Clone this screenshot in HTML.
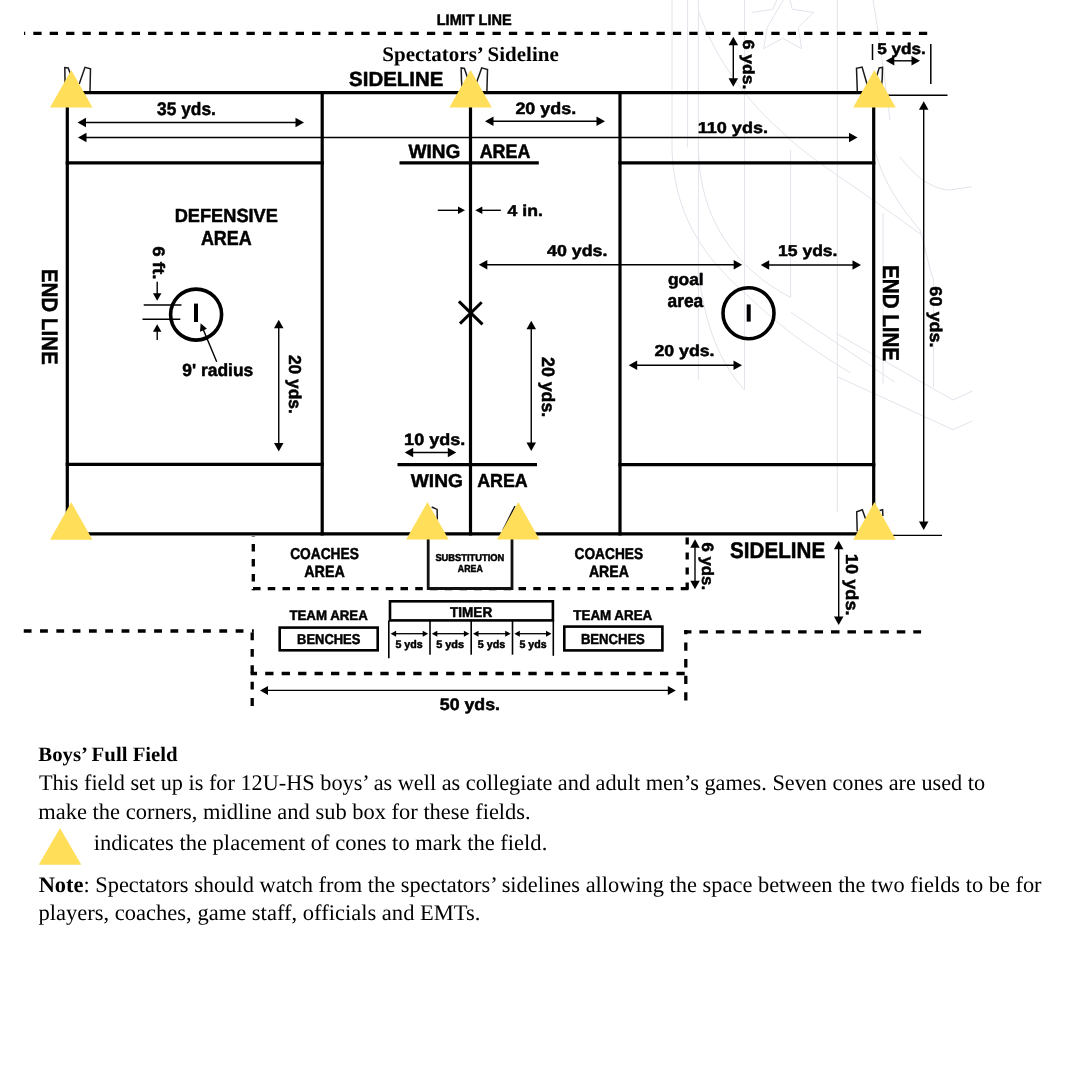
<!DOCTYPE html>
<html><head><meta charset="utf-8"><title>Boys Full Field</title>
<style>html,body{margin:0;padding:0;background:#fff;width:1080px;height:1080px;overflow:hidden}svg{display:block;will-change:transform;text-rendering:geometricPrecision}</style>
</head><body>
<svg width="1080" height="1080" viewBox="0 0 1080 1080">
<rect width="1080" height="1080" fill="#fff"/>
<g stroke="#E3E4EC" stroke-width="1" fill="none" stroke-linejoin="miter">
<path d="M751.6,12.5 L772.9,9.3 L780,-8 M788,-8 L792.3,9.3 L813.6,12.5 L798.3,27.3 L801.6,48.6 L782.6,38.4 L763.6,48.6 L767.3,27.3 Z"/>
<path d="M672,0V150 M687.6,0V147.5 M698.4,0V380 M744.5,0V390 M790.6,150V297.5 M837.3,0V511.7 M883,213V384 M933.5,280V387"/>
<path d="M672,150 C674,205 695,250 744.5,292.5 C770,317.5 800,342.5 850,372.5"/>
<path d="M698.4,150 C700,220 735,268 790.6,297.5"/>
<path d="M698.4,270 C705,330 722,365 744.5,390"/>
<path d="M698.6,11.6 C712,50 740,95 780,130 C810,160 840,175 921.7,235"/>
<path d="M873,0 C880,40 886,90 890,120 M875,150 C880,170 890,195 920,230 C925,245 928,265 933.5,280"/>
<path d="M900,156.7 C915,178 935,190 950,190 L971.7,186.7"/>
<path d="M791,312.4 L894.6,382 M836.3,333.5 L953,400 L972.4,391 M838,377 L953,429.7 L972.4,421"/>
</g>
<path d="M24.00,33.3H25.20M33.30,33.3H41.60M49.70,33.3H58.00M66.10,33.3H74.40M82.50,33.3H90.80M98.90,33.3H107.20M115.30,33.3H123.60M131.70,33.3H140.00M148.10,33.3H156.40M164.50,33.3H172.80M180.90,33.3H189.20M197.30,33.3H205.60M213.70,33.3H222.00M230.10,33.3H238.40M246.50,33.3H254.80M262.90,33.3H271.20M279.30,33.3H287.60M295.70,33.3H304.00M312.10,33.3H320.40M328.50,33.3H336.80M344.90,33.3H353.20M361.30,33.3H369.60M377.70,33.3H386.00M394.10,33.3H402.40M410.50,33.3H418.80M426.90,33.3H435.20M443.30,33.3H451.60M459.70,33.3H468.00M476.10,33.3H484.40M492.50,33.3H500.80M508.90,33.3H517.20M525.30,33.3H533.60M541.70,33.3H550.00M558.10,33.3H566.40M574.50,33.3H582.80M590.90,33.3H599.20M607.30,33.3H615.60M623.70,33.3H632.00M640.10,33.3H648.40M656.50,33.3H664.80M672.90,33.3H681.20M689.30,33.3H697.60M705.70,33.3H714.00M722.10,33.3H730.40M738.50,33.3H746.80M754.90,33.3H763.20M771.30,33.3H779.60M787.70,33.3H796.00M804.10,33.3H812.40M820.50,33.3H828.80M836.90,33.3H845.20M853.30,33.3H861.60M869.70,33.3H878.00M886.10,33.3H894.40M902.50,33.3H910.80M918.90,33.3H927.20" stroke="#000" stroke-width="3.3" fill="none"/>
<path d="M253.3,536.00V536.60M253.3,544.00V551.60M253.3,559.00V566.60M253.3,574.00V581.60M253.3,589.00V590.30" stroke="#000" stroke-width="3.3" fill="none"/>
<path d="M253.00,588.7H260.50M267.75,588.7H275.25M282.50,588.7H290.00M297.25,588.7H304.75M312.00,588.7H319.50M326.75,588.7H334.25M341.50,588.7H349.00M356.25,588.7H363.75M371.00,588.7H378.50M385.75,588.7H393.25M400.50,588.7H408.00M415.25,588.7H422.75M430.00,588.7H437.50M444.75,588.7H452.25M459.50,588.7H467.00M474.25,588.7H481.75M489.00,588.7H496.50M503.75,588.7H511.25M518.50,588.7H526.00M533.25,588.7H540.75M548.00,588.7H555.50M562.75,588.7H570.25M577.50,588.7H585.00M592.25,588.7H599.75M607.00,588.7H614.50M621.75,588.7H629.25M636.50,588.7H644.00M651.25,588.7H658.75M666.00,588.7H673.50M680.75,588.7H688.25" stroke="#000" stroke-width="3.3" fill="none"/>
<path d="M687.2,537.50V544.50M687.2,552.50V559.50M687.2,567.50V574.50M687.2,582.50V589.50" stroke="#000" stroke-width="3.3" fill="none"/>
<path d="M23.75,631H31.55M40.05,631H47.85M56.35,631H64.15M72.65,631H80.45M88.95,631H96.75M105.25,631H113.05M121.55,631H129.35M137.85,631H145.65M154.15,631H161.95M170.45,631H178.25M186.75,631H194.55M203.05,631H210.85M219.35,631H227.15M235.65,631H243.45M251.95,631H253.80" stroke="#000" stroke-width="3.3" fill="none"/>
<path d="M252.2,632.50V640.30M252.2,648.90V656.70M252.2,665.30V673.10M252.2,681.70V689.50M252.2,698.10V705.90" stroke="#000" stroke-width="3.3" fill="none"/>
<path d="M250.60,673.5H257.05M265.20,673.5H273.50M281.65,673.5H289.95M298.10,673.5H306.40M314.55,673.5H322.85M331.00,673.5H339.30M347.45,673.5H355.75M363.90,673.5H372.20M380.35,673.5H388.65M396.80,673.5H405.10M413.25,673.5H421.55M429.70,673.5H438.00M446.15,673.5H454.45M462.60,673.5H470.90M479.05,673.5H487.35M495.50,673.5H503.80M511.95,673.5H520.25M528.40,673.5H536.70M544.85,673.5H553.15M561.30,673.5H569.60M577.75,673.5H586.05M594.20,673.5H602.50M610.65,673.5H618.95M627.10,673.5H635.40M643.55,673.5H651.85M660.00,673.5H668.30M676.45,673.5H684.75" stroke="#000" stroke-width="3.3" fill="none"/>
<path d="M685.8,630.00V634.20M685.8,642.50V650.80M685.8,659.10V667.40M685.8,675.70V684.00M685.8,692.30V700.60" stroke="#000" stroke-width="3.3" fill="none"/>
<path d="M684.20,631.8H691.45M699.40,631.8H707.90M715.85,631.8H724.35M732.30,631.8H740.80M748.75,631.8H757.25M765.20,631.8H773.70M781.65,631.8H790.15M798.10,631.8H806.60M814.55,631.8H823.05M831.00,631.8H839.50M847.45,631.8H855.95M863.90,631.8H872.40M880.35,631.8H888.85M896.80,631.8H905.30M913.25,631.8H921.10" stroke="#000" stroke-width="3.3" fill="none"/>
<g stroke="#000" stroke-width="3.2" fill="none" stroke-linecap="square">
<path d="M67.3,92.7H873.7 M67.3,533.9H873.7 M67.3,92.7V533.9 M873.7,92.7V533.9"/>
<path d="M322.2,92.7V533.9 M470.5,92.7V533.9 M620,92.7V533.9"/>
<path d="M67.3,162.8H322.2 M620,162.9H873.7 M67.3,464.4H322.2 M620,464.6H873.7"/>
</g>
<g stroke="#000" stroke-width="3.2" fill="none">
<path d="M399.5,162.8H538.8 M397.5,464.7H537"/>
</g>
<line x1="873.7" y1="95.3" x2="947.5" y2="95.3" stroke="#000" stroke-width="1.4" />
<line x1="873.7" y1="535.4" x2="942" y2="535.4" stroke="#000" stroke-width="1.4" />
<circle cx="196.1" cy="314.6" r="25.5" stroke="#000" stroke-width="3.6" fill="none"/>
<circle cx="748.5" cy="313.2" r="25.5" stroke="#000" stroke-width="3.6" fill="none"/>
<rect x="194" y="303.6" width="4" height="18.4" fill="#000"/>
<rect x="746.7" y="304.4" width="4" height="17.2" fill="#000"/>
<path d="M458.9,301.4L482.5,324.4 M481.7,302.2L460,323.6" stroke="#000" stroke-width="3" fill="none"/>
<line x1="85.0" y1="122.5" x2="296.5" y2="122.5" stroke="#000" stroke-width="1.4" />
<polygon points="77.50,122.50 86.00,117.75 86.00,127.25" fill="#000"/>
<polygon points="304.00,122.50 295.50,127.25 295.50,117.75" fill="#000"/>
<line x1="85.5" y1="137.5" x2="850.0" y2="137.5" stroke="#000" stroke-width="1.4" />
<polygon points="78.00,137.50 86.50,132.75 86.50,142.25" fill="#000"/>
<polygon points="857.50,137.50 849.00,142.25 849.00,132.75" fill="#000"/>
<line x1="492.5" y1="121.3" x2="597.5" y2="121.3" stroke="#000" stroke-width="1.4" />
<polygon points="485.00,121.30 493.50,116.55 493.50,126.05" fill="#000"/>
<polygon points="605.00,121.30 596.50,126.05 596.50,116.55" fill="#000"/>
<line x1="437.8" y1="210.3" x2="459" y2="210.3" stroke="#000" stroke-width="1.4" />
<polygon points="465.00,210.30 458.00,214.05 458.00,206.55" fill="#000"/>
<line x1="481.3" y1="210.3" x2="500.8" y2="210.3" stroke="#000" stroke-width="1.4" />
<polygon points="475.30,210.30 482.30,206.55 482.30,214.05" fill="#000"/>
<line x1="486.3" y1="264.8" x2="734.7" y2="264.8" stroke="#000" stroke-width="1.4" />
<polygon points="478.80,264.80 487.30,260.05 487.30,269.55" fill="#000"/>
<polygon points="742.20,264.80 733.70,269.55 733.70,260.05" fill="#000"/>
<line x1="768.2" y1="265" x2="853.5" y2="265" stroke="#000" stroke-width="1.4" />
<polygon points="760.70,265.00 769.20,260.25 769.20,269.75" fill="#000"/>
<polygon points="861.00,265.00 852.50,269.75 852.50,260.25" fill="#000"/>
<line x1="636.2" y1="365.3" x2="734.5" y2="365.3" stroke="#000" stroke-width="1.4" />
<polygon points="628.70,365.30 637.20,360.55 637.20,370.05" fill="#000"/>
<polygon points="742.00,365.30 733.50,370.05 733.50,360.55" fill="#000"/>
<line x1="412.2" y1="452.5" x2="448.8" y2="452.5" stroke="#000" stroke-width="1.4" />
<polygon points="404.70,452.50 413.20,447.75 413.20,457.25" fill="#000"/>
<polygon points="456.30,452.50 447.80,457.25 447.80,447.75" fill="#000"/>
<line x1="733.3" y1="44.2" x2="733.3" y2="79.2" stroke="#000" stroke-width="1.4" />
<polygon points="733.30,36.70 738.05,45.20 728.55,45.20" fill="#000"/>
<polygon points="733.30,86.70 728.55,78.20 738.05,78.20" fill="#000"/>
<line x1="893.3" y1="60.8" x2="912.5" y2="60.8" stroke="#000" stroke-width="1.4" />
<polygon points="885.80,60.80 894.30,56.05 894.30,65.55" fill="#000"/>
<polygon points="920.00,60.80 911.50,65.55 911.50,56.05" fill="#000"/>
<line x1="872.5" y1="44" x2="872.5" y2="60" stroke="#000" stroke-width="1.5" />
<line x1="930.8" y1="44" x2="930.8" y2="84" stroke="#000" stroke-width="1.5" />
<line x1="923.7" y1="108.8" x2="923.7" y2="522.5" stroke="#000" stroke-width="1.4" />
<polygon points="923.70,101.30 928.45,109.80 918.95,109.80" fill="#000"/>
<polygon points="923.70,530.00 918.95,521.50 928.45,521.50" fill="#000"/>
<line x1="278.75" y1="327.2" x2="278.75" y2="443.9" stroke="#000" stroke-width="1.4" />
<polygon points="278.75,319.70 283.50,328.20 274.00,328.20" fill="#000"/>
<polygon points="278.75,451.40 274.00,442.90 283.50,442.90" fill="#000"/>
<line x1="531.25" y1="328.3" x2="531.25" y2="443.5" stroke="#000" stroke-width="1.4" />
<polygon points="531.25,320.80 536.00,329.30 526.50,329.30" fill="#000"/>
<polygon points="531.25,451.00 526.50,442.50 536.00,442.50" fill="#000"/>
<line x1="157.2" y1="281.7" x2="157.2" y2="294.3" stroke="#000" stroke-width="1.4" />
<polygon points="157.20,300.80 152.95,293.30 161.45,293.30" fill="#000"/>
<line x1="157.2" y1="330.7" x2="157.2" y2="340" stroke="#000" stroke-width="1.4" />
<polygon points="157.20,324.20 161.45,331.70 152.95,331.70" fill="#000"/>
<line x1="143.7" y1="305" x2="181.5" y2="305" stroke="#000" stroke-width="1.4" />
<line x1="142.5" y1="319.2" x2="180.3" y2="319.2" stroke="#000" stroke-width="1.4" />
<line x1="216.7" y1="361.7" x2="202.9199647407101" y2="328.83333205237693" stroke="#000" stroke-width="1.4" />
<polygon points="200.60,323.30 206.96,328.77 200.04,331.67" fill="#000"/>
<line x1="695" y1="546.7" x2="695" y2="581.7" stroke="#000" stroke-width="1.4" />
<polygon points="695.00,539.20 699.75,547.70 690.25,547.70" fill="#000"/>
<polygon points="695.00,589.20 690.25,580.70 699.75,580.70" fill="#000"/>
<line x1="838.7" y1="548.2" x2="838.7" y2="617.5" stroke="#000" stroke-width="1.4" />
<polygon points="838.70,540.70 843.45,549.20 833.95,549.20" fill="#000"/>
<polygon points="838.70,625.00 833.95,616.50 843.45,616.50" fill="#000"/>
<line x1="267" y1="690.4" x2="668.8" y2="690.4" stroke="#000" stroke-width="1.4" />
<polygon points="260.00,690.40 268.00,685.90 268.00,694.90" fill="#000"/>
<polygon points="675.80,690.40 667.80,694.90 667.80,685.90" fill="#000"/>
<path d="M428.2,533.9V588.5H512V533.9" stroke="#111" stroke-width="2.8" fill="none"/>
<rect x="390" y="601.3" width="162.9" height="19.1" stroke="#000" stroke-width="2.6" fill="none"/>
<rect x="279.7" y="627.6" width="98" height="22.7" stroke="#000" stroke-width="2.6" fill="none"/>
<rect x="564.3" y="626.6" width="98.1" height="23.8" stroke="#000" stroke-width="2.6" fill="none"/>
<line x1="388.8" y1="620.5" x2="388.8" y2="658.3" stroke="#000" stroke-width="1.6" />
<line x1="430" y1="620.5" x2="430" y2="654.7" stroke="#000" stroke-width="1.6" />
<line x1="471.2" y1="620.5" x2="471.2" y2="654.7" stroke="#000" stroke-width="1.6" />
<line x1="512.5" y1="620.5" x2="512.5" y2="654.7" stroke="#000" stroke-width="1.6" />
<line x1="553.3" y1="620.5" x2="553.3" y2="655.8" stroke="#000" stroke-width="1.6" />
<line x1="395.1" y1="633.7" x2="423.7" y2="633.7" stroke="#000" stroke-width="1.3" />
<polygon points="390.60,633.70 396.10,630.70 396.10,636.70" fill="#000"/>
<polygon points="428.20,633.70 422.70,636.70 422.70,630.70" fill="#000"/>
<line x1="436.3" y1="633.7" x2="464.9" y2="633.7" stroke="#000" stroke-width="1.3" />
<polygon points="431.80,633.70 437.30,630.70 437.30,636.70" fill="#000"/>
<polygon points="469.40,633.70 463.90,636.70 463.90,630.70" fill="#000"/>
<line x1="477.5" y1="633.7" x2="506.2" y2="633.7" stroke="#000" stroke-width="1.3" />
<polygon points="473.00,633.70 478.50,630.70 478.50,636.70" fill="#000"/>
<polygon points="510.70,633.70 505.20,636.70 505.20,630.70" fill="#000"/>
<line x1="518.8" y1="633.7" x2="547.0" y2="633.7" stroke="#000" stroke-width="1.3" />
<polygon points="514.30,633.70 519.80,630.70 519.80,636.70" fill="#000"/>
<polygon points="551.50,633.70 546.00,636.70 546.00,630.70" fill="#000"/>
<path d="M65.2,91 L64.8,67.5 L68.2,68 L77,91 M79.2,84 L85,67.3 L90.5,68.8 L90,91" stroke="#1a1a1a" stroke-width="1.5" fill="none" stroke-linejoin="miter"/>
<path d="M462.5,91 C461,80 461.2,72 461.2,67.9 L464.4,68.5 L472,91 M476,84 L481.7,67.9 L487.5,69.6 L486.9,91.7" stroke="#1a1a1a" stroke-width="1.5" fill="none" stroke-linejoin="miter"/>
<path d="M857.3,91 L856.5,68.3 L862.1,67.1 L869,91 M875.5,80 L879.2,67.9 L882.5,67.3 C882.6,74 882.5,80 881,91" stroke="#1a1a1a" stroke-width="1.5" fill="none" stroke-linejoin="miter"/>
<path d="M431.7,507 L437.1,509.4 L437.3,519.6" stroke="#1a1a1a" stroke-width="1.5" fill="none" stroke-linejoin="miter"/>
<path d="M515,506 L503,530" stroke="#1a1a1a" stroke-width="1.5" fill="none" stroke-linejoin="miter"/>
<path d="M857.2,531.6 L856.7,511.7 L862.3,509.8 L866,520 M879.6,510.5 L882.6,509.8 L882.9,516" stroke="#1a1a1a" stroke-width="1.5" fill="none" stroke-linejoin="miter"/>
<polygon points="71.25,70 92.5,107.5 50,107.5" fill="#FFDE5A"/>
<polygon points="470.6,70 491.8,107.5 449.4,107.5" fill="#FFDE5A"/>
<polygon points="874.4,70 895.7,107.5 853.2,107.5" fill="#FFDE5A"/>
<polygon points="71.25,502.3 92.5,539.8 50,539.8" fill="#FFDE5A"/>
<polygon points="427.5,502.1 448.7,539.6 406.2,539.6" fill="#FFDE5A"/>
<polygon points="518.3,502.1 539.5,539.6 497,539.6" fill="#FFDE5A"/>
<polygon points="874.5,502.1 895.8,539.7 853.2,539.7" fill="#FFDE5A"/>
<polygon points="60,828 81.3,864.7 38.7,864.7" fill="#FFDE5A"/>
<g fill="#000">
<text x="436.769" y="25.000" font-family='"Liberation Sans", sans-serif' font-weight="bold" font-size="15.108" textLength="74.870" lengthAdjust="spacingAndGlyphs" stroke="#000" stroke-width="0.5" stroke-linejoin="round">LIMIT LINE</text>
<text x="349.102" y="86.300" font-family='"Liberation Sans", sans-serif' font-weight="bold" font-size="20.539" textLength="94.345" lengthAdjust="spacingAndGlyphs" stroke="#000" stroke-width="0.5" stroke-linejoin="round">SIDELINE</text>
<text x="157.043" y="114.500" font-family='"Liberation Sans", sans-serif' font-weight="bold" font-size="18.115" textLength="58.824" lengthAdjust="spacingAndGlyphs" stroke="#000" stroke-width="0.5" stroke-linejoin="round">35 yds.</text>
<text x="515.394" y="114.200" font-family='"Liberation Sans", sans-serif' font-weight="bold" font-size="16.454" textLength="60.754" lengthAdjust="spacingAndGlyphs" stroke="#000" stroke-width="0.5" stroke-linejoin="round">20 yds.</text>
<text x="697.658" y="133.300" font-family='"Liberation Sans", sans-serif' font-weight="bold" font-size="15.701" textLength="70.416" lengthAdjust="spacingAndGlyphs" stroke="#000" stroke-width="0.5" stroke-linejoin="round">110 yds.</text>
<text x="877.164" y="54.200" font-family='"Liberation Sans", sans-serif' font-weight="bold" font-size="15.594" textLength="48.619" lengthAdjust="spacingAndGlyphs" stroke="#000" stroke-width="0.5" stroke-linejoin="round">5 yds.</text>
<text x="408.573" y="157.500" font-family='"Liberation Sans", sans-serif' font-weight="bold" font-size="19.198" textLength="51.792" lengthAdjust="spacingAndGlyphs" stroke="#000" stroke-width="0.5" stroke-linejoin="round">WING</text>
<text x="479.665" y="157.500" font-family='"Liberation Sans", sans-serif' font-weight="bold" font-size="19.511" textLength="50.688" lengthAdjust="spacingAndGlyphs" stroke="#000" stroke-width="0.5" stroke-linejoin="round">AREA</text>
<text x="174.740" y="222.000" font-family='"Liberation Sans", sans-serif' font-weight="bold" font-size="19.097" textLength="103.125" lengthAdjust="spacingAndGlyphs" stroke="#000" stroke-width="0.5" stroke-linejoin="round">DEFENSIVE</text>
<text x="200.902" y="244.500" font-family='"Liberation Sans", sans-serif' font-weight="bold" font-size="20.366" textLength="50.941" lengthAdjust="spacingAndGlyphs" stroke="#000" stroke-width="0.5" stroke-linejoin="round">AREA</text>
<text x="507.639" y="215.800" font-family='"Liberation Sans", sans-serif' font-weight="bold" font-size="15.772" textLength="35.170" lengthAdjust="spacingAndGlyphs" stroke="#000" stroke-width="0.5" stroke-linejoin="round">4 in.</text>
<text x="547.010" y="255.800" font-family='"Liberation Sans", sans-serif' font-weight="bold" font-size="15.776" textLength="60.439" lengthAdjust="spacingAndGlyphs" stroke="#000" stroke-width="0.5" stroke-linejoin="round">40 yds.</text>
<text x="778.066" y="255.600" font-family='"Liberation Sans", sans-serif' font-weight="bold" font-size="15.762" textLength="59.399" lengthAdjust="spacingAndGlyphs" stroke="#000" stroke-width="0.5" stroke-linejoin="round">15 yds.</text>
<text x="667.921" y="285.400" font-family='"Liberation Sans", sans-serif' font-weight="bold" font-size="16.710" textLength="35.786" lengthAdjust="spacingAndGlyphs" stroke="#000" stroke-width="0.5" stroke-linejoin="round">goal</text>
<text x="667.506" y="306.900" font-family='"Liberation Sans", sans-serif' font-weight="bold" font-size="18.413" textLength="35.690" lengthAdjust="spacingAndGlyphs" stroke="#000" stroke-width="0.5" stroke-linejoin="round">area</text>
<text x="182.264" y="375.600" font-family='"Liberation Sans", sans-serif' font-weight="bold" font-size="17.615" textLength="70.966" lengthAdjust="spacingAndGlyphs" stroke="#000" stroke-width="0.5" stroke-linejoin="round">9' radius</text>
<text x="654.428" y="355.800" font-family='"Liberation Sans", sans-serif' font-weight="bold" font-size="15.769" textLength="60.131" lengthAdjust="spacingAndGlyphs" stroke="#000" stroke-width="0.5" stroke-linejoin="round">20 yds.</text>
<text x="404.127" y="444.700" font-family='"Liberation Sans", sans-serif' font-weight="bold" font-size="16.373" textLength="61.016" lengthAdjust="spacingAndGlyphs" stroke="#000" stroke-width="0.5" stroke-linejoin="round">10 yds.</text>
<text x="410.824" y="487.000" font-family='"Liberation Sans", sans-serif' font-weight="bold" font-size="18.622" textLength="52.087" lengthAdjust="spacingAndGlyphs" stroke="#000" stroke-width="0.5" stroke-linejoin="round">WING</text>
<text x="477.225" y="487.000" font-family='"Liberation Sans", sans-serif' font-weight="bold" font-size="18.897" textLength="50.486" lengthAdjust="spacingAndGlyphs" stroke="#000" stroke-width="0.5" stroke-linejoin="round">AREA</text>
<text x="290.153" y="558.700" font-family='"Liberation Sans", sans-serif' font-weight="bold" font-size="15.854" textLength="68.674" lengthAdjust="spacingAndGlyphs" stroke="#000" stroke-width="0.5" stroke-linejoin="round">COACHES</text>
<text x="304.239" y="576.700" font-family='"Liberation Sans", sans-serif' font-weight="bold" font-size="16.210" textLength="40.538" lengthAdjust="spacingAndGlyphs" stroke="#000" stroke-width="0.5" stroke-linejoin="round">AREA</text>
<text x="435.388" y="560.500" font-family='"Liberation Sans", sans-serif' font-weight="bold" font-size="10.014" textLength="68.981" lengthAdjust="spacingAndGlyphs" stroke="#000" stroke-width="0.5" stroke-linejoin="round">SUBSTITUTION</text>
<text x="457.851" y="571.500" font-family='"Liberation Sans", sans-serif' font-weight="bold" font-size="10.273" textLength="24.878" lengthAdjust="spacingAndGlyphs" stroke="#000" stroke-width="0.5" stroke-linejoin="round">AREA</text>
<text x="574.540" y="558.700" font-family='"Liberation Sans", sans-serif' font-weight="bold" font-size="15.828" textLength="68.575" lengthAdjust="spacingAndGlyphs" stroke="#000" stroke-width="0.5" stroke-linejoin="round">COACHES</text>
<text x="588.932" y="576.700" font-family='"Liberation Sans", sans-serif' font-weight="bold" font-size="16.210" textLength="39.943" lengthAdjust="spacingAndGlyphs" stroke="#000" stroke-width="0.5" stroke-linejoin="round">AREA</text>
<text x="730.037" y="558.400" font-family='"Liberation Sans", sans-serif' font-weight="bold" font-size="22.635" textLength="95.119" lengthAdjust="spacingAndGlyphs" stroke="#000" stroke-width="0.5" stroke-linejoin="round">SIDELINE</text>
<text x="289.394" y="620.100" font-family='"Liberation Sans", sans-serif' font-weight="bold" font-size="13.993" textLength="78.401" lengthAdjust="spacingAndGlyphs" stroke="#000" stroke-width="0.5" stroke-linejoin="round">TEAM AREA</text>
<text x="297.086" y="643.800" font-family='"Liberation Sans", sans-serif' font-weight="bold" font-size="14.177" textLength="63.235" lengthAdjust="spacingAndGlyphs" stroke="#000" stroke-width="0.5" stroke-linejoin="round">BENCHES</text>
<text x="450.010" y="616.700" font-family='"Liberation Sans", sans-serif' font-weight="bold" font-size="14.345" textLength="42.169" lengthAdjust="spacingAndGlyphs" stroke="#000" stroke-width="0.5" stroke-linejoin="round">TIMER</text>
<text x="395.506" y="647.500" font-family='"Liberation Sans", sans-serif' font-weight="bold" font-size="11.017" textLength="27.150" lengthAdjust="spacingAndGlyphs" stroke="#000" stroke-width="0.5" stroke-linejoin="round">5 yds</text>
<text x="436.205" y="647.500" font-family='"Liberation Sans", sans-serif' font-weight="bold" font-size="10.916" textLength="27.787" lengthAdjust="spacingAndGlyphs" stroke="#000" stroke-width="0.5" stroke-linejoin="round">5 yds</text>
<text x="477.744" y="647.500" font-family='"Liberation Sans", sans-serif' font-weight="bold" font-size="11.148" textLength="27.446" lengthAdjust="spacingAndGlyphs" stroke="#000" stroke-width="0.5" stroke-linejoin="round">5 yds</text>
<text x="519.471" y="647.500" font-family='"Liberation Sans", sans-serif' font-weight="bold" font-size="11.086" textLength="27.098" lengthAdjust="spacingAndGlyphs" stroke="#000" stroke-width="0.5" stroke-linejoin="round">5 yds</text>
<text x="573.330" y="620.000" font-family='"Liberation Sans", sans-serif' font-weight="bold" font-size="14.341" textLength="78.849" lengthAdjust="spacingAndGlyphs" stroke="#000" stroke-width="0.5" stroke-linejoin="round">TEAM AREA</text>
<text x="580.940" y="644.200" font-family='"Liberation Sans", sans-serif' font-weight="bold" font-size="14.432" textLength="63.895" lengthAdjust="spacingAndGlyphs" stroke="#000" stroke-width="0.5" stroke-linejoin="round">BENCHES</text>
<text x="439.810" y="709.800" font-family='"Liberation Sans", sans-serif' font-weight="bold" font-size="16.712" textLength="60.242" lengthAdjust="spacingAndGlyphs" stroke="#000" stroke-width="0.5" stroke-linejoin="round">50 yds.</text>
<text transform="translate(42.200 270.000) rotate(90)" x="-1.354" y="0" font-family='"Liberation Sans", sans-serif' font-weight="bold" font-size="22.353" textLength="96.061" lengthAdjust="spacingAndGlyphs" stroke="#000" stroke-width="0.5" stroke-linejoin="round">END LINE</text>
<text transform="translate(882.600 266.200) rotate(90)" x="-1.105" y="0" font-family='"Liberation Sans", sans-serif' font-weight="bold" font-size="22.956" textLength="96.000" lengthAdjust="spacingAndGlyphs" stroke="#000" stroke-width="0.5" stroke-linejoin="round">END LINE</text>
<text transform="translate(930.300 286.700) rotate(90)" x="-0.348" y="0" font-family='"Liberation Sans", sans-serif' font-weight="bold" font-size="17.104" textLength="61.131" lengthAdjust="spacingAndGlyphs" stroke="#000" stroke-width="0.5" stroke-linejoin="round">60 yds.</text>
<text transform="translate(153.000 246.900) rotate(90)" x="-0.587" y="0" font-family='"Liberation Sans", sans-serif' font-weight="bold" font-size="16.719" textLength="33.143" lengthAdjust="spacingAndGlyphs" stroke="#000" stroke-width="0.5" stroke-linejoin="round">6 ft.</text>
<text transform="translate(742.800 40.000) rotate(90)" x="-0.383" y="0" font-family='"Liberation Sans", sans-serif' font-weight="bold" font-size="16.103" textLength="49.651" lengthAdjust="spacingAndGlyphs" stroke="#000" stroke-width="0.5" stroke-linejoin="round">6 yds.</text>
<text transform="translate(289.200 355.100) rotate(90)" x="-0.220" y="0" font-family='"Liberation Sans", sans-serif' font-weight="bold" font-size="17.317" textLength="58.903" lengthAdjust="spacingAndGlyphs" stroke="#000" stroke-width="0.5" stroke-linejoin="round">20 yds.</text>
<text transform="translate(542.300 357.200) rotate(90)" x="-0.159" y="0" font-family='"Liberation Sans", sans-serif' font-weight="bold" font-size="17.936" textLength="60.235" lengthAdjust="spacingAndGlyphs" stroke="#000" stroke-width="0.5" stroke-linejoin="round">20 yds.</text>
<text transform="translate(702.000 542.500) rotate(90)" x="-0.077" y="0" font-family='"Liberation Sans", sans-serif' font-weight="bold" font-size="16.457" textLength="47.686" lengthAdjust="spacingAndGlyphs" stroke="#000" stroke-width="0.5" stroke-linejoin="round">6 yds.</text>
<text transform="translate(846.400 555.000) rotate(90)" x="-1.156" y="0" font-family='"Liberation Sans", sans-serif' font-weight="bold" font-size="17.256" textLength="61.833" lengthAdjust="spacingAndGlyphs" stroke="#000" stroke-width="0.5" stroke-linejoin="round">10 yds.</text>
<text x="382.285" y="60.500" font-family='"Liberation Serif", serif' font-weight="bold" font-size="20.648" textLength="176.546" lengthAdjust="spacingAndGlyphs">Spectators’ Sideline</text>
<text x="38.296" y="760.800" font-family='"Liberation Serif", serif' font-weight="bold" font-size="20.453" textLength="139.395" lengthAdjust="spacingAndGlyphs">Boys’ Full Field</text>
<text x="38.876" y="790.000" font-family='"Liberation Serif", serif' font-weight="normal" font-size="22.350" textLength="946.227" lengthAdjust="spacingAndGlyphs">This field set up is for 12U-HS boys’ as well as collegiate and adult men’s games. Seven cones are used to</text>
<text x="38.351" y="818.700" font-family='"Liberation Serif", serif' font-weight="normal" font-size="22.350" textLength="492.380" lengthAdjust="spacingAndGlyphs">make the corners, midline and sub box for these fields.</text>
<text x="93.765" y="850.000" font-family='"Liberation Serif", serif' font-weight="normal" font-size="22.350" textLength="453.520" lengthAdjust="spacingAndGlyphs">indicates the placement of cones to mark the field.</text>
<text x="38.647" y="891.700" font-family='"Liberation Serif", serif' font-weight="normal" font-size="22.350" textLength="1002.939" lengthAdjust="spacingAndGlyphs"><tspan font-weight="bold">Note</tspan>: Spectators should watch from the spectators’ sidelines allowing the space between the two fields to be for</text>
<text x="38.418" y="919.700" font-family='"Liberation Serif", serif' font-weight="normal" font-size="22.350" textLength="442.067" lengthAdjust="spacingAndGlyphs">players, coaches, game staff, officials and EMTs.</text>
</g>
</svg>
</body></html>
